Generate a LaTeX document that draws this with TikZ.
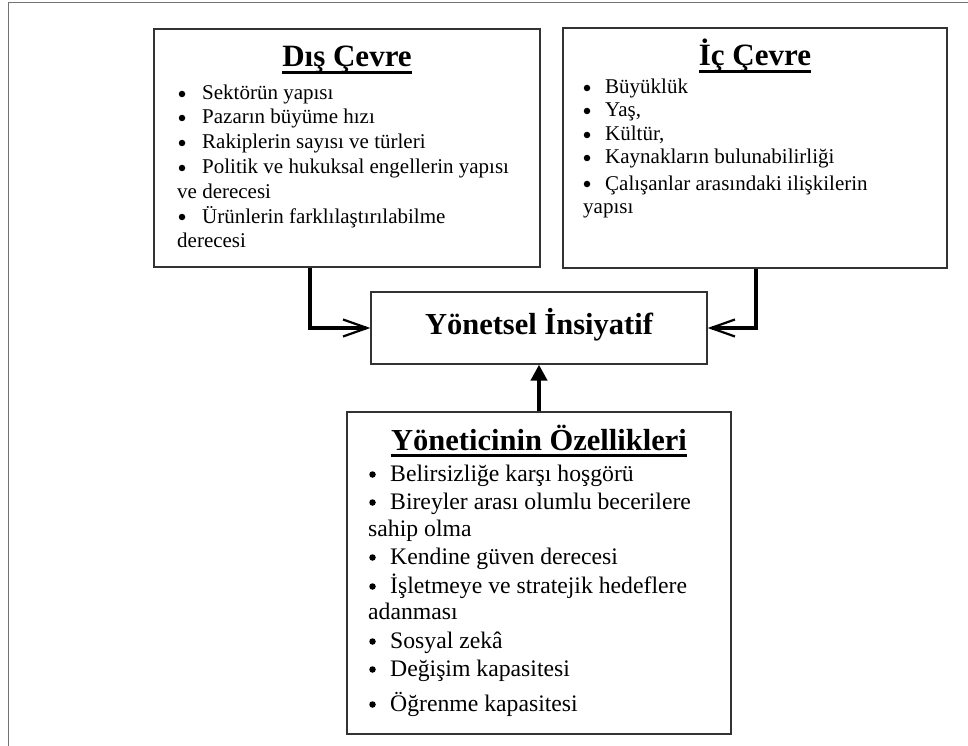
\documentclass[tikz,border=0pt]{standalone}
\usepackage{fontspec}
\setmainfont{Liberation Serif}
\usetikzlibrary{arrows.meta}
\begin{document}
\begin{tikzpicture}[x=1pt,y=-1pt,
  frame/.style={draw=black!55, line width=1.5pt},
  box/.style={draw=black!80, line width=1.3pt, inner sep=0pt},
  ttl/.style={inner sep=0pt, anchor=base, font=\fontsize{31pt}{31pt}\selectfont\bfseries},
  uline/.style={line width=2.4pt},
  itm/.style={inner sep=0pt, anchor=base west, font=\fontsize{21pt}{24pt}\selectfont},
  bitm/.style={itm, font=\fontsize{23.7pt}{28pt}\selectfont},
  dot/.style={circle, fill=black, inner sep=0pt, minimum size=6.5pt},
  sidearr/.style={line width=4.6pt, -{Straight Barb[length=24pt,width=17pt,line width=2.2pt]}},
  uparr/.style={line width=4.4pt, -{Triangle[length=16pt,width=16pt]}}
]
\useasboundingbox (0,0) rectangle (968,746);

% page frame
\draw[frame] (8.5,746) -- (8.5,2.5) -- (968,2.5);

% boxes
\node[box, minimum width=386pt, minimum height=238pt] (dis) at (347,148) {};
\node[box, minimum width=384pt, minimum height=240pt] (ic) at (755,148) {};
\node[box, minimum width=336pt, minimum height=72pt, text height=18pt, text depth=6pt,
      font=\fontsize{30.5pt}{31pt}\selectfont\bfseries] (yon) at (539,328) {Yönetsel İnsiyatif};
\node[box, minimum width=384pt, minimum height=322pt] (ozel) at (539,573) {};

% Dış Çevre
\node[ttl] (dt) at (347,67) {Dış Çevre};
\draw[uline] ([yshift=-5.5pt]dt.base west) -- ([yshift=-5.5pt]dt.base east);
\foreach \n/\y/\t in {1/100/Sektörün yapısı, 2/124/Pazarın büyüme hızı,
    3/149/Rakiplerin sayısı ve türleri, 4/174/Politik ve hukuksal engellerin yapısı,
    5/223/Ürünlerin farklılaştırılabilme}{
  \node[dot] (db\n) at (182,\y-6) {};
  \node[itm] (dx\n) at (202,\y) {\t};
}
\node[itm] (dc1) at (177,198) {ve derecesi};
\node[itm] (dc2) at (177,247) {derecesi};

% İç Çevre
\node[ttl] (it) at (755,66) {İç Çevre};
\draw[uline] ([yshift=-5.5pt]it.base west) -- ([yshift=-5.5pt]it.base east);
\foreach \n/\y/\t in {1/94/Büyüklük, 2/117/{Yaş,}, 3/141/{Kültür,},
    4/164/Kaynakların bulunabilirliği, 5/190/Çalışanlar arasındaki ilişkilerin}{
  \node[dot] (ib\n) at (587,\y-6) {};
  \node[itm] (ix\n) at (605,\y) {\t};
}
\node[itm] (ic1) at (583,213) {yapısı};

% Yöneticinin Özellikleri
\node[ttl, font=\fontsize{30.5pt}{31pt}\selectfont\bfseries] (ot) at (539,450) {Yöneticinin Özellikleri};
\draw[uline] ([yshift=-5.5pt]ot.base west) -- ([yshift=-5.5pt]ot.base east);
\foreach \n/\y/\t in {1/481/Belirsizliğe karşı hoşgörü, 2/509/Bireyler arası olumlu becerilere,
    3/564/Kendine güven derecesi, 4/593/İşletmeye ve stratejik hedeflere,
    5/648/Sosyal zekâ, 6/676/Değişim kapasitesi, 7/711/Öğrenme kapasitesi}{
  \node[dot] (ob\n) at (372.5,\y-6.5) {};
  \node[bitm] (ox\n) at (390,\y) {\t};
}
\node[bitm] (oc1) at (368,536) {sahip olma};
\node[bitm] (oc2) at (368,619) {adanması};

% connectors
\coordinate (lx) at (310,0);
\coordinate (rx) at (756,0);
\draw[sidearr] (dis.south -| lx) |- (yon.west);
\draw[sidearr] (ic.south -| rx) |- (yon.east);
\draw[uparr] (ozel.north) -- (yon.south);
\end{tikzpicture}
\end{document}
